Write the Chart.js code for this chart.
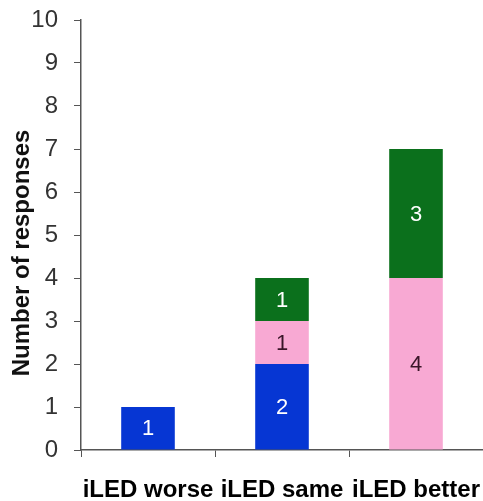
<!DOCTYPE html>
<html>
<head>
<meta charset="utf-8">
<script src="https://cdn.jsdelivr.net/npm/chart.js@4/dist/chart.umd.min.js"></script>
<style>
  html, body { margin: 0; padding: 0; background: #fff; }
  #wrap { width: 483px; height: 501px; }
</style>
</head>
<body>
<div id="wrap"><canvas id="c" width="483" height="501"></canvas></div>
<script>
// Response categories and stacked counts
const categories = ["iLED worse", "iLED same", "iLED better"];
const blueCounts = [1, 2, 0];
const pinkCounts = [0, 1, 4];
const greenCounts = [0, 1, 3];
const yTicks = [0, 1, 2, 3, 4, 5, 6, 7, 8, 9, 10];
const yTitle = "Number of responses";

const FONT = "'Liberation Sans', Arial, sans-serif";

// Writes each segment's count in the middle of its bar
const segmentLabels = {
  id: 'segmentLabels',
  afterDatasetsDraw(chart) {
    const ctx = chart.ctx;
    ctx.save();
    ctx.font = "22px " + FONT;
    ctx.textAlign = 'center';
    ctx.textBaseline = 'middle';
    chart.data.datasets.forEach((ds, i) => {
      const meta = chart.getDatasetMeta(i);
      meta.data.forEach((el, j) => {
        const v = ds.data[j];
        if (!v) return;
        ctx.fillStyle = ds.labelColor;
        ctx.fillText(String(v), el.x, (el.y + el.base) / 2 + 1);
      });
    });
    ctx.restore();
  }
};

// Vertical axis title
const axisTitle = {
  id: 'axisTitle',
  afterDraw(chart) {
    const ctx = chart.ctx;
    ctx.save();
    ctx.translate(22, 253);
    ctx.rotate(-Math.PI / 2);
    ctx.font = "bold 24px " + FONT;
    ctx.fillStyle = '#111';
    ctx.textAlign = 'center';
    ctx.textBaseline = 'middle';
    ctx.fillText(yTitle, 0, 0);
    ctx.restore();
  }
};

new Chart(document.getElementById('c'), {
  type: 'bar',
  data: {
    labels: categories,
    datasets: [
      { data: blueCounts, backgroundColor: '#0636d3', labelColor: '#ffffff' },
      { data: pinkCounts, backgroundColor: '#f8a9d3', labelColor: '#3a1528' },
      { data: greenCounts, backgroundColor: '#0b701c', labelColor: '#ffffff' }
    ].map(d => Object.assign(d, { barPercentage: 0.4, categoryPercentage: 1.0, borderWidth: 0 }))
  },
  options: {
    responsive: false,
    animation: false,
    layout: { padding: { top: 20, right: 0, left: 0, bottom: 0 } },
    plugins: { legend: { display: false }, tooltip: { enabled: false } },
    scales: {
      x: {
        stacked: true,
        grid: { drawOnChartArea: false, drawTicks: true, tickLength: 7, color: '#555', offset: true },
        border: { color: '#555', width: 1.5 },
        ticks: { color: '#000', font: { family: FONT, size: 24, weight: 'bold' }, padding: 19, maxRotation: 0, autoSkip: false },
        afterFit: s => { s.height = 51; s.paddingLeft = 0; s.paddingRight = 0; }
      },
      y: {
        stacked: true,
        min: 0,
        max: 10,
        afterBuildTicks: s => { s.ticks = yTicks.map(v => ({ value: v })); },
        grid: { drawOnChartArea: false, drawTicks: true, tickLength: 7, color: '#555' },
        border: { color: '#555', width: 1.5 },
        ticks: { color: '#333', font: { family: FONT, size: 24 }, padding: 16 },
        afterFit: s => { s.width = 81; s.paddingTop = 0; s.paddingBottom = 0; }
      }
    }
  },
  plugins: [segmentLabels, axisTitle]
});
</script>
</body>
</html>
